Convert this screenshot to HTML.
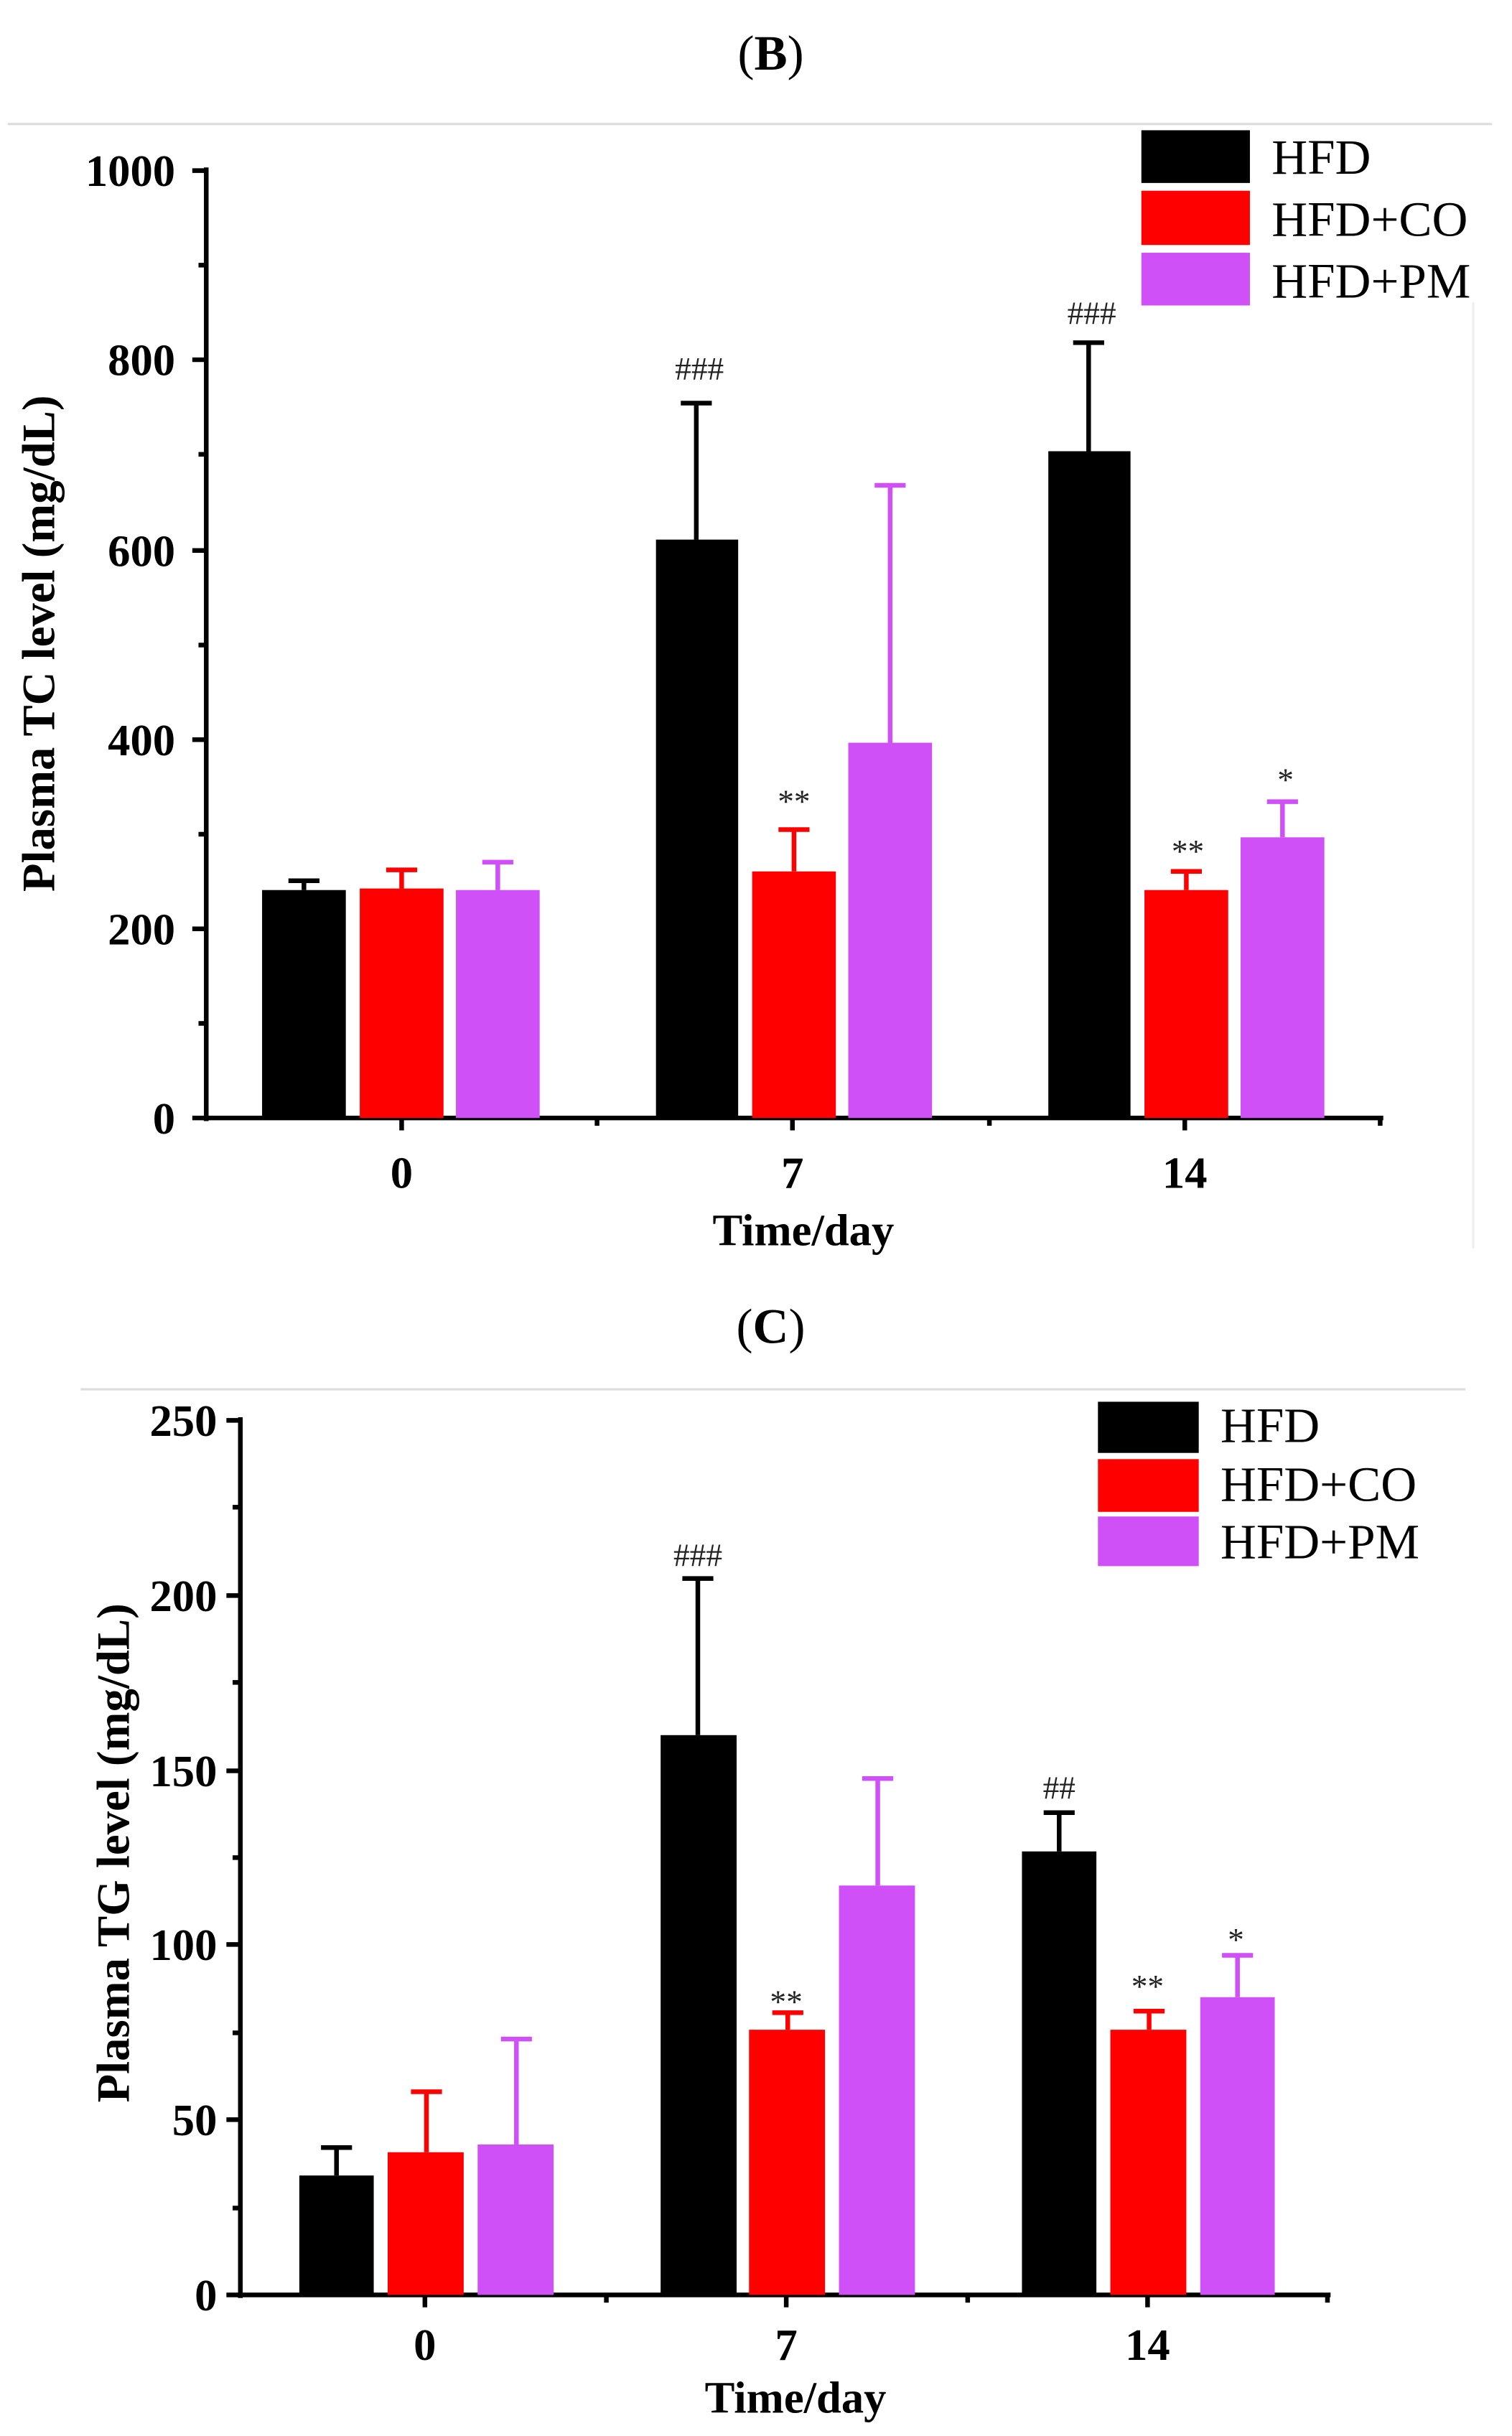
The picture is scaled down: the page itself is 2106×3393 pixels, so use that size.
<!DOCTYPE html>
<html><head><style>html,body{margin:0;padding:0;background:#fff}svg{display:block}</style></head>
<body>
<svg width="2106" height="3393" viewBox="0 0 975 1571" preserveAspectRatio="none" xmlns="http://www.w3.org/2000/svg" font-family="Liberation Serif, serif">
<rect width="975" height="1571" fill="#fff"/>
<!-- Panel B -->
<text x="497" y="45" font-size="32" text-anchor="middle">(<tspan font-weight="bold">B</tspan>)</text>
<line x1="5" y1="80" x2="962" y2="80" stroke="#ddd" stroke-width="1.5"/>
<line x1="950" y1="195" x2="950" y2="805" stroke="#eee" stroke-width="1.5"/>
<g stroke="#000" stroke-width="3">
<line x1="133" y1="108" x2="133" y2="723"/>
<line x1="131" y1="721" x2="892" y2="721"/>
<line x1="124" y1="110" x2="133" y2="110"/><line x1="124" y1="232" x2="133" y2="232"/><line x1="124" y1="355" x2="133" y2="355"/><line x1="124" y1="477" x2="133" y2="477"/><line x1="124" y1="599" x2="133" y2="599"/><line x1="124" y1="721" x2="133" y2="721"/>
<line x1="128" y1="171" x2="133" y2="171"/><line x1="128" y1="293" x2="133" y2="293"/><line x1="128" y1="416" x2="133" y2="416"/><line x1="128" y1="538" x2="133" y2="538"/><line x1="128" y1="660" x2="133" y2="660"/>
<line x1="259" y1="721" x2="259" y2="729"/><line x1="511" y1="721" x2="511" y2="729"/><line x1="764" y1="721" x2="764" y2="729"/>
<line x1="385" y1="721" x2="385" y2="726"/><line x1="638" y1="721" x2="638" y2="726"/><line x1="890" y1="721" x2="890" y2="726"/>
</g>
<g font-size="29" font-weight="bold" text-anchor="end">
<text x="113" y="120">1000</text><text x="113" y="242">800</text><text x="113" y="365">600</text><text x="113" y="487">400</text><text x="113" y="609">200</text><text x="113" y="731">0</text>
</g>
<g font-size="29" font-weight="bold" text-anchor="middle">
<text x="259" y="766">0</text><text x="511" y="766">7</text><text x="764" y="766">14</text>
<text x="518" y="803">Time/day</text>
</g>
<text transform="translate(35,415) rotate(-90)" font-size="30" font-weight="bold" text-anchor="middle">Plasma TC level (mg/dL)</text>
<g stroke-width="3">
<line x1="196" y1="574" x2="196" y2="568" stroke="#000"/><line x1="186" y1="568" x2="206" y2="568" stroke="#000"/>
<line x1="259" y1="573" x2="259" y2="561" stroke="#f00"/><line x1="249" y1="561" x2="269" y2="561" stroke="#f00"/>
<line x1="321" y1="574" x2="321" y2="556" stroke="#d050f8"/><line x1="311" y1="556" x2="331" y2="556" stroke="#d050f8"/>
<line x1="449" y1="348" x2="449" y2="260" stroke="#000"/><line x1="439" y1="260" x2="459" y2="260" stroke="#000"/>
<line x1="512" y1="562" x2="512" y2="535" stroke="#f00"/><line x1="502" y1="535" x2="522" y2="535" stroke="#f00"/>
<line x1="574" y1="479" x2="574" y2="313" stroke="#d050f8"/><line x1="564" y1="313" x2="584" y2="313" stroke="#d050f8"/>
<line x1="702" y1="291" x2="702" y2="221" stroke="#000"/><line x1="692" y1="221" x2="712" y2="221" stroke="#000"/>
<line x1="765" y1="574" x2="765" y2="562" stroke="#f00"/><line x1="755" y1="562" x2="775" y2="562" stroke="#f00"/>
<line x1="827" y1="540" x2="827" y2="517" stroke="#d050f8"/><line x1="817" y1="517" x2="837" y2="517" stroke="#d050f8"/>
</g>
<rect x="169" y="574" width="54" height="147" fill="#000"/>
<rect x="232" y="573" width="54" height="148" fill="#f00"/>
<rect x="294" y="574" width="54" height="147" fill="#d050f8"/>
<rect x="423" y="348" width="53" height="373" fill="#000"/>
<rect x="485" y="562" width="54" height="159" fill="#f00"/>
<rect x="547" y="479" width="54" height="242" fill="#d050f8"/>
<rect x="676" y="291" width="53" height="430" fill="#000"/>
<rect x="738" y="574" width="54" height="147" fill="#f00"/>
<rect x="800" y="540" width="54" height="181" fill="#d050f8"/>
<g font-size="21" text-anchor="middle" fill="#222">
<text x="451" y="245">###</text><text x="512" y="524">**</text><text x="704" y="209">###</text><text x="766" y="556">**</text><text x="829" y="510">*</text>
</g>
<rect x="736" y="84" width="70" height="34" fill="#000"/>
<rect x="736" y="123" width="70" height="35" fill="#f00"/>
<rect x="736" y="163" width="70" height="34" fill="#d050f8"/>
<g font-size="32"><text x="820" y="112">HFD</text><text x="820" y="152">HFD+CO</text><text x="820" y="192">HFD+PM</text></g>

<!-- Panel C -->
<text x="497" y="866" font-size="32" text-anchor="middle">(<tspan font-weight="bold">C</tspan>)</text>
<line x1="52" y1="896" x2="945" y2="896" stroke="#ddd" stroke-width="1.5"/>
<g stroke="#000" stroke-width="3">
<line x1="155" y1="914" x2="155" y2="1482"/>
<line x1="153" y1="1480" x2="858" y2="1480"/>
<line x1="146" y1="916" x2="155" y2="916"/><line x1="146" y1="1029" x2="155" y2="1029"/><line x1="146" y1="1142" x2="155" y2="1142"/><line x1="146" y1="1254" x2="155" y2="1254"/><line x1="146" y1="1367" x2="155" y2="1367"/><line x1="146" y1="1480" x2="155" y2="1480"/>
<line x1="150" y1="972" x2="155" y2="972"/><line x1="150" y1="1085" x2="155" y2="1085"/><line x1="150" y1="1198" x2="155" y2="1198"/><line x1="150" y1="1311" x2="155" y2="1311"/><line x1="150" y1="1424" x2="155" y2="1424"/>
<line x1="274" y1="1480" x2="274" y2="1488"/><line x1="507" y1="1480" x2="507" y2="1488"/><line x1="740" y1="1480" x2="740" y2="1488"/>
<line x1="391" y1="1480" x2="391" y2="1485"/><line x1="624" y1="1480" x2="624" y2="1485"/><line x1="856" y1="1480" x2="856" y2="1485"/>
</g>
<g font-size="29" font-weight="bold" text-anchor="end">
<text x="140" y="926">250</text><text x="140" y="1039">200</text><text x="140" y="1152">150</text><text x="140" y="1264">100</text><text x="140" y="1377">50</text><text x="140" y="1490">0</text>
</g>
<g font-size="29" font-weight="bold" text-anchor="middle">
<text x="274" y="1522">0</text><text x="507" y="1522">7</text><text x="740" y="1522">14</text>
<text x="513" y="1556">Time/day</text>
</g>
<text transform="translate(83,1195) rotate(-90)" font-size="30" font-weight="bold" text-anchor="middle">Plasma TG level  (mg/dL)</text>
<g stroke-width="3">
<line x1="217" y1="1403" x2="217" y2="1385" stroke="#000"/><line x1="207" y1="1385" x2="227" y2="1385" stroke="#000"/>
<line x1="275" y1="1388" x2="275" y2="1349" stroke="#f00"/><line x1="265" y1="1349" x2="285" y2="1349" stroke="#f00"/>
<line x1="333" y1="1383" x2="333" y2="1315" stroke="#d050f8"/><line x1="323" y1="1315" x2="343" y2="1315" stroke="#d050f8"/>
<line x1="450" y1="1119" x2="450" y2="1018" stroke="#000"/><line x1="440" y1="1018" x2="460" y2="1018" stroke="#000"/>
<line x1="508" y1="1309" x2="508" y2="1298" stroke="#f00"/><line x1="498" y1="1298" x2="518" y2="1298" stroke="#f00"/>
<line x1="566" y1="1216" x2="566" y2="1147" stroke="#d050f8"/><line x1="556" y1="1147" x2="576" y2="1147" stroke="#d050f8"/>
<line x1="683" y1="1194" x2="683" y2="1169" stroke="#000"/><line x1="673" y1="1169" x2="693" y2="1169" stroke="#000"/>
<line x1="741" y1="1309" x2="741" y2="1297" stroke="#f00"/><line x1="731" y1="1297" x2="751" y2="1297" stroke="#f00"/>
<line x1="798" y1="1288" x2="798" y2="1261" stroke="#d050f8"/><line x1="788" y1="1261" x2="808" y2="1261" stroke="#d050f8"/>
</g>
<rect x="193" y="1403" width="48" height="77" fill="#000"/>
<rect x="250" y="1388" width="49" height="92" fill="#f00"/>
<rect x="308" y="1383" width="49" height="97" fill="#d050f8"/>
<rect x="426" y="1119" width="49" height="361" fill="#000"/>
<rect x="483" y="1309" width="49" height="171" fill="#f00"/>
<rect x="541" y="1216" width="49" height="264" fill="#d050f8"/>
<rect x="659" y="1194" width="48" height="286" fill="#000"/>
<rect x="716" y="1309" width="49" height="171" fill="#f00"/>
<rect x="774" y="1288" width="48" height="192" fill="#d050f8"/>
<g font-size="21" text-anchor="middle" fill="#222">
<text x="450" y="1010">###</text><text x="507" y="1298">**</text><text x="683" y="1160">##</text><text x="740" y="1288">**</text><text x="797" y="1258">*</text>
</g>
<rect x="708" y="904" width="65" height="33" fill="#000"/>
<rect x="708" y="941" width="65" height="34" fill="#f00"/>
<rect x="708" y="978" width="65" height="32" fill="#d050f8"/>
<g font-size="32"><text x="787" y="930">HFD</text><text x="787" y="968">HFD+CO</text><text x="787" y="1005">HFD+PM</text></g>
</svg>
</body></html>
